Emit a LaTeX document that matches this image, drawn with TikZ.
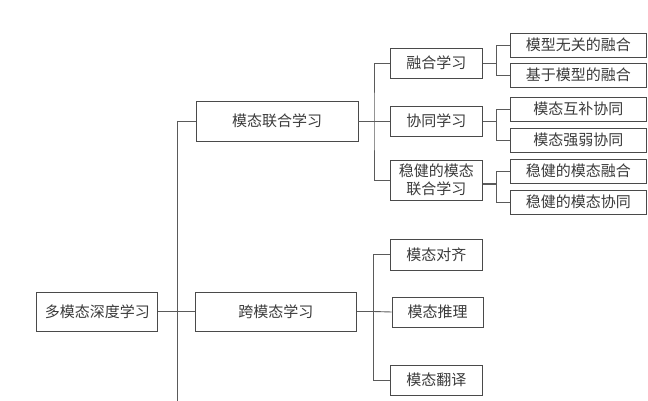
\documentclass[tikz,border=0pt]{standalone}
\usepackage{fontspec}
\setmainfont{Noto Sans CJK SC}
\usetikzlibrary{positioning,calc}
\definecolor{boxline}{HTML}{4A4A4A}
\definecolor{linkline}{HTML}{5A5A5A}
\definecolor{txt}{HTML}{3A3A3A}

\begin{document}
\begin{tikzpicture}[x=1pt,y=-1pt,
  box/.style={draw=boxline,line width=0.95pt,inner sep=0pt,text=txt,align=center,
    font=\fontsize{15}{18}\selectfont},
  leaf/.style={box,minimum width=136.5pt,minimum height=24pt},
  mid/.style={box,minimum width=91.5pt,minimum height=30pt},
  link/.style={draw=linkline,line width=0.9pt}]
\useasboundingbox (0,0) rectangle (648,401);

\node[box,minimum width=121pt,minimum height=39pt] (root) at (97.3,311.5) {多模态深度学习};
\node[box,minimum width=162pt,minimum height=40pt] (lianhe) at (277,121) {模态联合学习};
\node[box,minimum width=161.5pt,minimum height=39pt] (kua) at (275.8,311.5) {跨模态学习};

\node[mid] (ronghe) at (436.3,63) {融合学习};
\node[mid] (xietong) at (436.3,121) {协同学习};
\node[mid,minimum height=40pt] (wenjian) at (436.3,180) {稳健的模态\\联合学习};

\node[leaf] (wuguan) at (578.3,45) {模型无关的融合};
\node[leaf] (jiyu) at (578.3,75) {基于模型的融合};
\node[leaf] (hubu) at (578.3,109) {模态互补协同};
\node[leaf] (qiangruo) at (578.3,140) {模态强弱协同};
\node[leaf] (wronghe) at (578.3,171) {稳健的模态融合};
\node[leaf] (wxietong) at (578.3,202) {稳健的模态协同};

\node[mid,minimum height=31pt] (duiqi) at (436.3,254.5) {模态对齐};
\node[mid,minimum width=91pt] (tuili) at (437.5,312) {模态推理};
\node[mid] (fanyi) at (436.3,380) {模态翻译};

\coordinate (t1) at (177.4,121);
\coordinate (t1b) at (177.4,401);
\coordinate (t2) at (374,121);
\coordinate (t3a) at (496.5,63);
\coordinate (t3b) at (496.5,121);
\coordinate (t3c) at (496.5,184);
\coordinate (t4) at (373.5,311.5);

\draw[link] (t1) -- (t1b);
\draw[link] (t1) -- (lianhe.west);
\draw[link] (root.east) -- (kua.west);

\draw[link] (lianhe.east) -- (t2);
\draw[link] (ronghe.west) -| (t2) |- (wenjian.west);
\draw[link] (t2) -- (xietong.west);

\draw[link] (ronghe.east) -- (t3a);
\draw[link] (wuguan.west) -| (t3a) |- (jiyu.west);
\draw[link] (xietong.east) -- (t3b);
\draw[link] (hubu.west) -| (t3b) |- (qiangruo.west);
\draw[link,line width=2pt] (wenjian.east |- t3c) -- (t3c);
\draw[link] (wronghe.west) -| (t3c) |- (wxietong.west);

\draw[link] (kua.east) -- (t4);
\draw[link] (duiqi.west) -| (t4) |- (fanyi.west);
\draw[link] (t4) -- (tuili.west);

\end{tikzpicture}
\end{document}
